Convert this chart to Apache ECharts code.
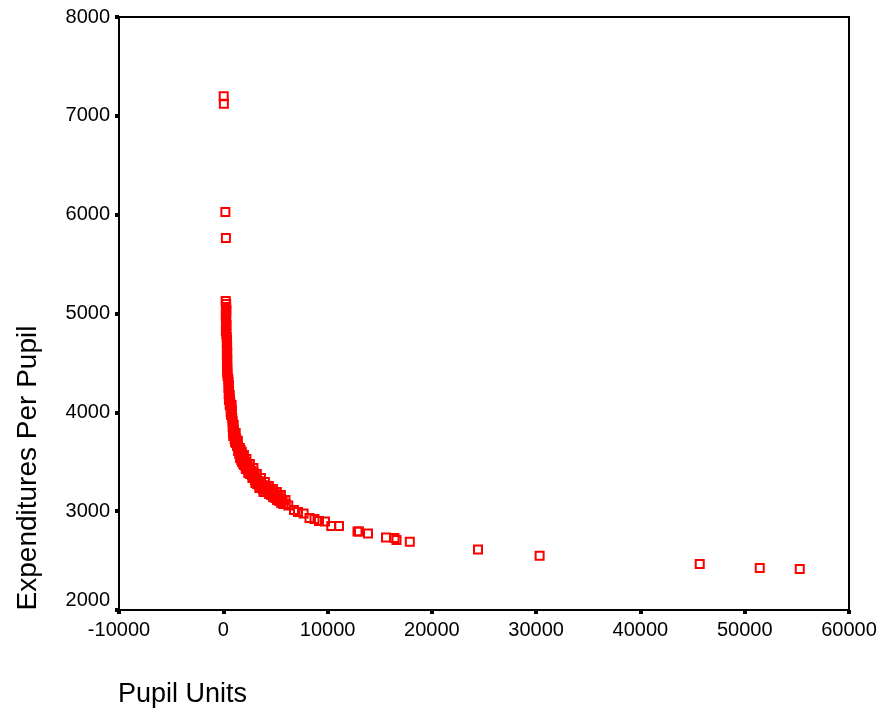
<!DOCTYPE html>
<html>
<head>
<meta charset="utf-8">
<title>Expenditures Per Pupil</title>
<script src="https://cdn.jsdelivr.net/npm/echarts@6/dist/echarts.min.js"></script>
<style>
  html, body { margin: 0; padding: 0; background: #fff; }
  #myChart { width: 880px; height: 712px; }
</style>
</head>
<body>
<div id="myChart"></div>
<script>
// pupil units and expenditures per pupil, one entry per district
const pupilUnits = [
  40, 55, 200, 250,
  230, 280, 250, 300, 270, 240, 290, 260, 310, 280, 250, 300,
  330, 360, 340, 370, 350, 380, 345, 365, 390, 355, 375, 400, 385, 410,
  480, 510, 530, 500, 550, 520, 560, 540,
  680, 700, 730, 710, 750,
  860, 890, 920, 900, 940, 930, 960,
  1080, 1110, 1090, 1130,
  1270, 1300, 1320,
  1480, 1510, 1530,
  1670, 1700, 1720,
  1860, 1890, 1920,
  2100, 2130, 2160,
  2340, 2370, 2400,
  2720, 2750, 2790,
  3010, 3040, 3080,
  3390, 3420, 3460,
  3770, 3810, 3850,
  4160, 4220,
  4540, 4600,
  4920, 4990,
  5310, 5370,
  5690, 5760,
  620, 630, 615,
  800, 820, 810,
  1000, 1010, 1020,
  1190, 1200, 1210,
  1400, 1410, 1420,
  1590, 1600, 1610,
  1780, 1790, 1800,
  1980, 1990, 2000,
  2220, 2230, 2240,
  2550, 2560, 2570,
  2890, 2900, 2910,
  3220, 3230, 3240,
  3610, 3620, 3630,
  3990, 4000, 4010,
  4370, 4380, 4390,
  4760, 4770, 4780,
  5140, 5150, 5160,
  5530, 5540, 5550,
  5960, 5970,
  6234, 6780, 7164, 7701, 8267, 8746, 9178, 9753, 10357, 11096,
  12870, 13014, 13877, 15603, 16418, 16610, 17886,
  24425, 30333, 45687, 51441, 55277
];
const expenditures = [
  7197, 7121, 6028, 5765,
  5127, 5097, 5066, 5036, 5006, 4975, 4945, 4914, 4884, 4853, 4823, 4793,
  4763, 4732, 4702, 4672, 4641, 4611, 4581, 4550, 4520, 4490, 4459, 4429, 4398, 4368,
  4338, 4307, 4277, 4247, 4216, 4186, 4156, 4125,
  4095, 4064, 4034, 4004, 3973,
  3943, 3913, 3882, 3852, 3822, 3791, 3761,
  3791, 3761, 3731, 3700,
  3720, 3690, 3660,
  3639, 3609, 3579,
  3619, 3569, 3518,
  3548, 3508, 3478,
  3498, 3457, 3427,
  3457, 3417, 3386,
  3407, 3366, 3336,
  3356, 3316, 3285,
  3305, 3265, 3235,
  3265, 3225, 3194,
  3235, 3194,
  3204, 3164,
  3174, 3133,
  3144, 3103,
  3113, 3073,
  4176, 4125, 4075,
  4075, 4024, 3983,
  3872, 3822, 3771,
  3791, 3741, 3690,
  3710, 3660, 3609,
  3639, 3589, 3538,
  3599, 3548, 3498,
  3569, 3518, 3467,
  3528, 3478, 3427,
  3478, 3427, 3376,
  3437, 3386, 3336,
  3376, 3326, 3275,
  3336, 3285, 3235,
  3295, 3245, 3194,
  3255, 3214, 3174,
  3225, 3184, 3144,
  3194, 3154, 3113,
  3164, 3123, 3083,
  3113, 3073,
  3057, 3012, 2992, 2977, 2931, 2921, 2901, 2896, 2850, 2850,
  2794, 2794, 2774, 2734, 2729, 2708, 2691,
  2612, 2550, 2466, 2425, 2415
];

const xRange = [-10000, 60000, 10000];
const yRange = [2000, 8000, 1000];

const points = pupilUnits.map(function (x, i) {
  return [x, expenditures[i]];
});

const font = "'Liberation Sans', Arial, sans-serif";

let myChart = echarts.init(document.getElementById("myChart"));

let axisCommon = {
  type: "value",
  axisLine: { show: true, onZero: false, lineStyle: { color: "#000", width: 2 } },
  axisTick: { show: true, length: 4, lineStyle: { color: "#000", width: 4 } },
  splitLine: { show: false },
  axisLabel: {
    color: "#000",
    fontSize: 20,
    fontFamily: font,
    margin: 9,
    formatter: function (v) { return String(v); }
  }
};

let option = {
  animation: false,
  backgroundColor: "#fff",
  grid: {
    left: 119,
    right: 31,
    top: 17,
    bottom: 102,
    show: true,
    borderColor: "#000",
    borderWidth: 2
  },
  xAxis: Object.assign({}, axisCommon, {
    min: xRange[0],
    max: xRange[1],
    interval: xRange[2],
    axisLabel: Object.assign({}, axisCommon.axisLabel, { margin: 10 })
  }),
  yAxis: Object.assign({}, axisCommon, {
    min: yRange[0],
    max: yRange[1],
    interval: yRange[2],
    axisLabel: Object.assign({}, axisCommon.axisLabel, { verticalAlignMinLabel: "bottom" })
  }),
  graphic: [
    {
      type: "text",
      left: 118,
      top: 681,
      style: { text: "Pupil Units", fontSize: 27, fontFamily: font, fill: "#000" }
    },
    {
      type: "text",
      x: 28,
      y: 468,
      rotation: Math.PI / 2,
      style: {
        text: "Expenditures Per Pupil",
        fontSize: 28,
        fontFamily: font,
        fill: "#000",
        align: "center",
        verticalAlign: "middle"
      }
    }
  ],
  series: [
    {
      type: "scatter",
      data: points,
      symbol: "rect",
      symbolSize: 8,
      itemStyle: { color: "rgba(255,255,255,0)", borderColor: "#ff0000", borderWidth: 2, opacity: 1 },
      emphasis: { disabled: true }
    }
  ]
};

myChart.setOption(option);
</script>
</body>
</html>
